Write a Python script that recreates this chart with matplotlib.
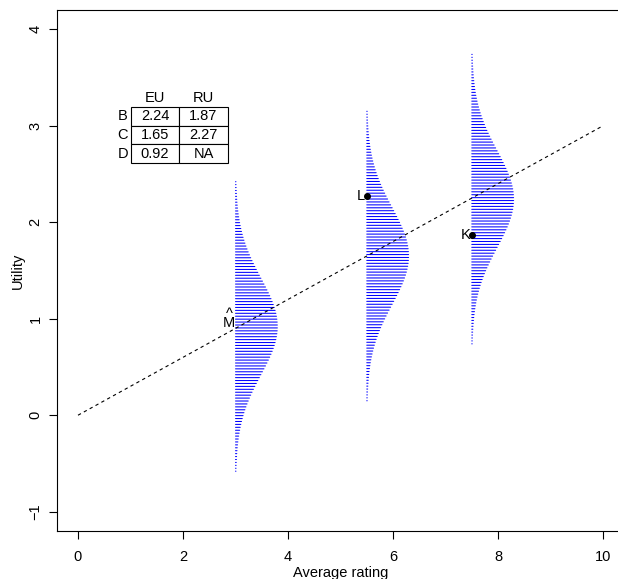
import numpy as np
import matplotlib
matplotlib.use("Agg")
import matplotlib.pyplot as plt
from matplotlib.table import Table

plt.rcParams['font.family'] = ['Liberation Sans', 'DejaVu Sans']

# --- data ---
dist_x = [3.0, 5.5, 7.5]          # rating position of each utility distribution
dist_mean = [0.92, 1.65, 2.24]    # EU values (D, C, B)
dist_sd = [0.5, 0.5, 0.5]
n_lines = 100

point_x = [5.5, 7.5]
point_y = [2.27, 1.87]            # RU values (C, B)
point_lab = ['L', 'K']

mhat_x, mhat_y = 3.0, 0.92

line_x = [0, 10]
line_y = [0, 3]

tab_rows = ['B', 'C', 'D']
tab_cols = ['EU', 'RU']
tab_vals = [['2.24', '1.87'], ['1.65', '2.27'], ['0.92', 'NA']]

FS = 10.5

# --- figure ---
W, H = 618, 579
fig = plt.figure(figsize=(W / 100, H / 100), dpi=100)
ax_l, ax_r, ax_t, ax_b = 57, 624, 10, 531
ax_w, ax_h = ax_r - ax_l, ax_b - ax_t
ax = fig.add_axes([ax_l / W, 1 - ax_b / H, ax_w / W, ax_h / H])
ax.set_xlim(-0.4, 10.4)
ax.set_ylim(-1.2, 4.2)

# density "combs"
for x0, m, s in zip(dist_x, dist_mean, dist_sd):
    ys = m + s * np.linspace(-3, 3, n_lines)
    dens = np.exp(-0.5 * ((ys - m) / s) ** 2) / (s * np.sqrt(2 * np.pi))
    lc = ax.hlines(ys, x0, x0 + dens, color='blue', lw=0.75)
    lc.set_capstyle('round')
    lc.set_snap(False)

ax.plot(line_x, line_y, color='black', lw=0.8, dashes=(3, 3))

ax.plot(point_x, point_y, 'o', color='black', ms=4)
for x, y, lab in zip(point_x, point_y, point_lab):
    ax.annotate(lab, (x, y), xytext=(-1, 0), textcoords='offset points',
                ha='right', va='center', fontsize=FS)

# M with a hat on top (one text, two lines)
ax.annotate('^\nM', (mhat_x, mhat_y), xytext=(0, -2.8), textcoords='offset points',
            ha='right', va='bottom', multialignment='center', linespacing=0.62,
            fontsize=FS)

# table (cell sizes in axes fractions)
lab_w, cell_w, cell_h = 16 / ax_w, 48.5 / ax_w, 18.6 / ax_h
tb = Table(ax, bbox=[(130.7 - ax_l) / ax_w, 1 - (163 - ax_t) / ax_h,
                     2 * cell_w, 4 * cell_h])
tb.add_cell(0, -1, lab_w, cell_h, text='', loc='center').visible_edges = ''
for j, c in enumerate(tab_cols):
    cell = tb.add_cell(0, j, cell_w, cell_h, text=c, loc='center')
    cell.visible_edges = ''
for i, r in enumerate(tab_rows):
    cell = tb.add_cell(i + 1, -1, lab_w, cell_h, text=r, loc='center')
    cell.visible_edges = ''
    for j in range(len(tab_cols)):
        tb.add_cell(i + 1, j, cell_w, cell_h, text=tab_vals[i][j], loc='center',
                    edgecolor='black')
tb.auto_set_font_size(False)
tb.set_fontsize(FS)
for cell in tb.get_celld().values():
    cell.set_linewidth(0.8)
ax.add_table(tb)

ax.set_xticks([0, 2, 4, 6, 8, 10])
ax.set_yticks([-1, 0, 1, 2, 3, 4])
ax.tick_params(direction='out', length=5.5, width=0.8, labelsize=FS)
ax.tick_params(axis='x', pad=8)
ax.tick_params(axis='y', pad=5)
for lbl in ax.get_yticklabels():
    lbl.set_rotation(90)
    lbl.set_va('center')
for sp in ax.spines.values():
    sp.set_linewidth(0.8)

ax.set_xlabel('Average rating', fontsize=FS, labelpad=1.5)
ax.set_ylabel('Utility', fontsize=FS, labelpad=2.5)

fig.savefig('out.png', dpi=100)
